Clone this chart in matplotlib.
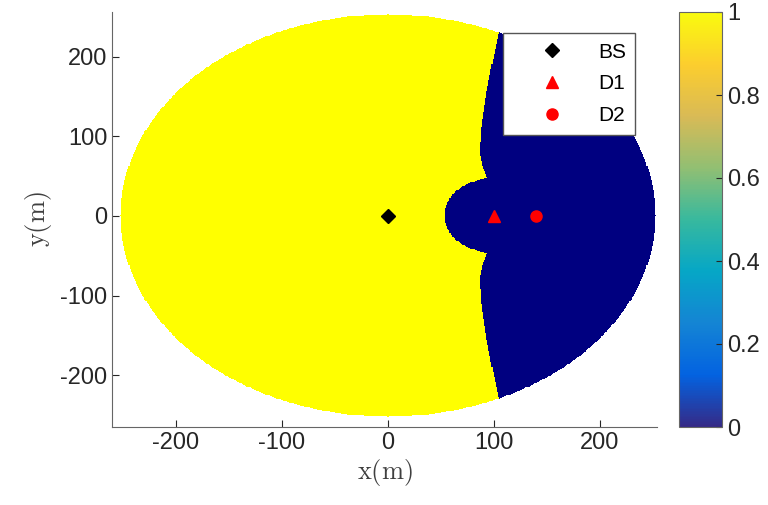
import numpy as np
import matplotlib
matplotlib.use('Agg')
import matplotlib.pyplot as plt
from matplotlib.colors import ListedColormap, LinearSegmentedColormap, Normalize
from matplotlib.cm import ScalarMappable

plt.rcParams['font.family'] = ['Liberation Sans', 'DejaVu Sans']
plt.rcParams['mathtext.fontset'] = 'cm'
plt.rcParams['axes.unicode_minus'] = False

# cell area and node positions (m)
cell_radius = 252
bs_pos = (0, 0)
d1_pos = (100, 0)
d2_pos = (140, 0)
hole_radius = 47          # dark disc around D1

# boundary of the dark region: x as a function of |y|
bnd_absy = [0, 45, 49.5, 62, 79, 112, 154, 196, 231, 260]
bnd_x = [95, 95, 92.7, 88.9, 86.4, 88, 92.7, 98.9, 104.6, 108]

cbar_ticks = [0, 0.2, 0.4, 0.6, 0.8, 1]
cbar_labels = ['0', '0.2', '0.4', '0.6', '0.8', '1']

# parula-like colormap for the colour bar
parula = LinearSegmentedColormap.from_list('parula', [
    (0.2081, 0.1663, 0.5292), (0.0117, 0.3875, 0.8820), (0.0793, 0.5200, 0.8312),
    (0.0228, 0.6535, 0.7768), (0.2178, 0.7250, 0.6193), (0.5709, 0.7485, 0.4494),
    (0.8507, 0.7299, 0.3360), (0.9880, 0.8066, 0.1794), (0.9763, 0.9831, 0.0538)])
map_cmap = ListedColormap(['#000080', '#ffff00'])
map_cmap.set_bad((1, 1, 1, 0))

step = 1.0
xs = np.arange(-cell_radius, cell_radius + step, step)
ys = np.arange(-cell_radius, cell_radius + step, step)
X, Y = np.meshgrid(xs, ys)
bx = np.interp(np.abs(Y), bnd_absy, bnd_x)
dark = (X > bx) | ((X - d1_pos[0])**2 + (Y - d1_pos[1])**2 < hole_radius**2)
Z = np.where(dark, 0.0, 1.0)
Z = np.ma.masked_where(X**2 + Y**2 > cell_radius**2, Z)

fig = plt.figure(figsize=(7.68, 5.05), dpi=100)
ax = fig.add_axes([112/768, 78/505, 545/768, 415/505])
cax = fig.add_axes([679/768, 78/505, 43/768, 415/505])

ax.imshow(Z, extent=(xs[0] - step/2, xs[-1] + step/2, ys[0] - step/2, ys[-1] + step/2),
          origin='lower', cmap=map_cmap, vmin=0, vmax=1, aspect='auto',
          interpolation='nearest')

ax.plot(*bs_pos, 'D', color='k', ms=7, ls='none', label='BS')
ax.plot(*d1_pos, '^', color='r', ms=9, ls='none', label='D1')
ax.plot(*d2_pos, 'o', color='r', ms=8, ls='none', label='D2')

ax.set_xlim(-260, 254)
ax.set_ylim(-265, 256)
ax.set_xticks([-200, -100, 0, 100, 200])
ax.set_yticks([-200, -100, 0, 100, 200])
ax.tick_params(direction='in', length=5, labelsize=17, colors='#262626', width=0.8)
for s in ['top', 'right']:
    ax.spines[s].set_visible(False)
for s in ['left', 'bottom']:
    ax.spines[s].set_color('#666666')
ax.set_xlabel(r'$\mathrm{x(m)}$', fontsize=19, color='#404040', labelpad=2)
ax.set_ylabel(r'$\mathrm{y(m)}$', fontsize=19, color='#404040', labelpad=4)

leg = ax.legend(loc='upper right', bbox_to_anchor=(0.96, 0.949), borderaxespad=0,
                fontsize=15, frameon=True, fancybox=False, edgecolor='#555555',
                framealpha=1, handlelength=3.8, handletextpad=0.3, borderpad=0.45,
                labelspacing=0.62, numpoints=1)
leg.get_frame().set_linewidth(1.0)

cb = fig.colorbar(ScalarMappable(norm=Normalize(0, 1), cmap=parula), cax=cax)
cb.set_ticks(cbar_ticks)
cb.set_ticklabels(cbar_labels)
cb.outline.set_edgecolor('#666666')
cax.tick_params(direction='in', length=4, labelsize=17, colors='#262626', width=0.8)

fig.savefig('out.png', dpi=100)
